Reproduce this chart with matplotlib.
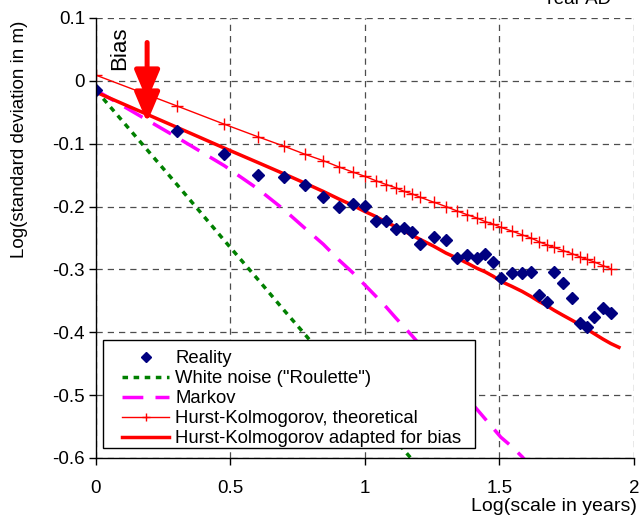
import matplotlib
matplotlib.use("Agg")
import matplotlib.pyplot as plt
from matplotlib.patches import Rectangle

plt.rcParams['font.family'] = ['Liberation Sans', 'DejaVu Sans']
plt.rcParams['axes.unicode_minus'] = False

# x = log10(scale in years)
log_scale = [0, 0.301, 0.477, 0.602, 0.699, 0.778, 0.845, 0.903, 0.954, 1.0,
             1.041, 1.079, 1.114, 1.146, 1.176, 1.204, 1.255, 1.301, 1.342, 1.380,
             1.415, 1.447, 1.477, 1.505, 1.546, 1.584, 1.617, 1.647, 1.677, 1.703,
             1.736, 1.770, 1.799, 1.825, 1.851, 1.885, 1.914]

reality = [-0.015, -0.080, -0.117, -0.150, -0.153, -0.166, -0.185, -0.201, -0.196, -0.199,
           -0.223, -0.223, -0.236, -0.234, -0.241, -0.259, -0.249, -0.253, -0.282, -0.277,
           -0.282, -0.275, -0.288, -0.313, -0.306, -0.306, -0.304, -0.340, -0.352, -0.304,
           -0.321, -0.345, -0.385, -0.391, -0.375, -0.361, -0.369]

hk_theoretical = [0.009, -0.040, -0.069, -0.089, -0.104, -0.117, -0.127, -0.137, -0.145, -0.152,
                  -0.159, -0.165, -0.170, -0.176, -0.180, -0.185, -0.193, -0.200, -0.207, -0.213,
                  -0.218, -0.224, -0.228, -0.233, -0.239, -0.245, -0.250, -0.256, -0.261, -0.265,
                  -0.270, -0.275, -0.280, -0.284, -0.288, -0.294, -0.299]

hk_bias_x = log_scale + [1.944]
hk_bias = [-0.018, -0.074, -0.107, -0.130, -0.148, -0.163, -0.176, -0.188, -0.198, -0.208,
           -0.216, -0.225, -0.232, -0.239, -0.246, -0.252, -0.263, -0.274, -0.282, -0.290,
           -0.298, -0.304, -0.311, -0.319, -0.327, -0.335, -0.343, -0.351, -0.358, -0.365,
           -0.373, -0.381, -0.388, -0.395, -0.402, -0.411, -0.418, -0.424]

# only the first scales, the rest falls below the plot
white_noise = [-0.015, -0.165, -0.254, -0.316, -0.365, -0.404, -0.438, -0.467, -0.492, -0.515,
               -0.536, -0.555, -0.572, -0.588, -0.603, -0.617]

markov = [-0.015, -0.090, -0.135, -0.172, -0.205, -0.235, -0.260, -0.285, -0.305, -0.325,
          -0.343, -0.360, -0.377, -0.392, -0.406, -0.420, -0.444, -0.466, -0.486, -0.505,
          -0.522, -0.538, -0.553, -0.567, -0.582, -0.598, -0.614]

xticks = [0, 0.5, 1, 1.5, 2]
yticks = [0.1, 0, -0.1, -0.2, -0.3, -0.4, -0.5, -0.6]

fig = plt.figure(figsize=(6.43, 5.24), dpi=100)
ax = fig.add_axes([0.1493, 0.126, 0.8367, 0.8397])

ax.plot(log_scale, reality, linestyle='none', marker='D', color='#000080',
        markersize=6.5, label='Reality', zorder=5)
ax.plot(log_scale[:len(white_noise)], white_noise, color='#008000', lw=2.5,
        dashes=(1.6, 1.6), label='White noise ("Roulette")')
ax.plot(log_scale[:len(markov)], markov, color='#FF00FF', lw=2.5,
        dashes=(6, 3.5), label='Markov')
ax.plot(log_scale, hk_theoretical, color='#FF0000', lw=1, marker='+',
        markersize=8, markeredgewidth=1, label='Hurst-Kolmogorov, theoretical')
ax.plot(hk_bias_x, hk_bias, color='#FF0000', lw=2.5,
        label='Hurst-Kolmogorov adapted for bias')

ax.set_xlim(0, 2)
ax.set_ylim(-0.6, 0.1)
ax.set_xticks(xticks)
ax.set_xticklabels([f'{v:g}' for v in xticks])
ax.set_yticks(yticks)
ax.set_yticklabels([f'{v:g}' for v in yticks])
ax.tick_params(direction='out', length=5, width=1, labelsize=13.5, colors='black')
ax.tick_params(axis='x', pad=11)
ax.tick_params(axis='y', pad=3)

ax.grid(True, color='0.3', lw=0.9, linestyle=(0, (5, 4)))
ax.set_axisbelow(True)
for s in ['top', 'right']:
    ax.spines[s].set_visible(False)
for s in ['left', 'bottom']:
    ax.spines[s].set_linewidth(1)
    ax.spines[s].set_zorder(6)

ax.set_xlabel('Log(scale in years)', fontsize=14, loc='right')
ax.xaxis.set_label_coords(1.0056, -0.091)
ax.set_ylabel('Log(standard deviation in m)', fontsize=13.5, loc='top')
ax.yaxis.set_label_coords(-0.127, 0.995)

# bias arrow
ax.text(0.089, 0.052, 'Bias', rotation=90, ha='center', va='center', fontsize=16)
arrow = dict(arrowstyle='-|>,head_length=0.9,head_width=0.38', color='#FF0000',
             lw=3.6, shrinkA=0, shrinkB=0, mutation_scale=20)
ax.annotate('', xy=(0.19, -0.031), xytext=(0.19, 0.061), arrowprops=arrow)
ax.annotate('', xy=(0.19, -0.066), xytext=(0.19, -0.02), arrowprops=arrow)

fig.text(0.898, 1 - 4 / 524, 'Year AD', ha='center', va='baseline', fontsize=13.5)

# legend frame drawn by hand (wide side margins, tight top/bottom)
ax.add_patch(Rectangle((0.013, 0.0227), 0.6914, 0.2455, transform=ax.transAxes,
                       facecolor='white', edgecolor='black', lw=1, zorder=9))
leg = ax.legend(loc='lower left', bbox_to_anchor=(0.0483, 0.025), borderaxespad=0,
                frameon=False, fontsize=13.3, handlelength=2.55, handletextpad=0.32,
                labelspacing=0.16, borderpad=0, markerscale=0.75)
leg.set_zorder(10)

fig.savefig('out.png', dpi=100)
